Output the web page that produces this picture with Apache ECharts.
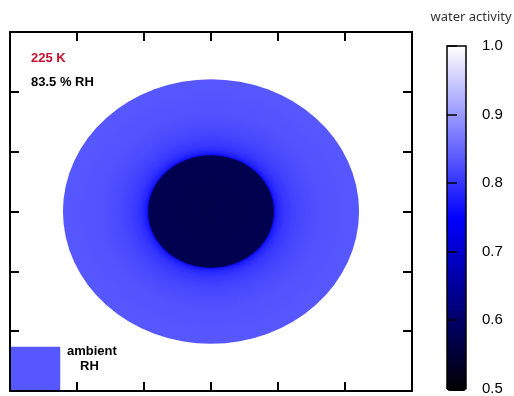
<!DOCTYPE html>
<html>
<head>
<meta charset="utf-8">
<script src="https://cdn.jsdelivr.net/npm/echarts@6/dist/echarts.min.js"></script>
<style>
html,body{margin:0;padding:0;background:#fff;}
#chart{width:514px;height:396px;}
</style>
</head>
<body>
<div id="chart"></div>
<script>
// ---- data ----
// radial profile of the droplet (radius in plot units, water activity)
const profileR = [0.0, 0.93, 0.95, 0.98, 1.03, 1.10, 1.20, 1.30, 1.45, 1.60, 1.80, 2.00, 2.21];
const profileA = [0.573, 0.578, 0.765, 0.780, 0.793, 0.804, 0.812, 0.819, 0.825, 0.829, 0.832, 0.834, 0.835];
const dropletCenter = [3, 3];
const ambientRH = [0.835];
const colorbarTicks = [0.5, 0.6, 0.7, 0.8, 0.9, 1.0];
const axisRange = [0, 6];
const labels = ['225 K', '83.5 % RH', 'ambient', 'RH', 'water activity'];

const chart = echarts.init(document.getElementById('chart'), null, {renderer: 'canvas'});

const dropletData = profileA.map((a, i) => [a, profileR[i]]);

function renderRing(params, api) {
  const i = params.dataIndex;
  const R = api.value(1);
  const c = api.coord(dropletCenter);
  const px = api.coord([dropletCenter[0] + R, dropletCenter[1]])[0] - c[0];
  const py = c[1] - api.coord([dropletCenter[0], dropletCenter[1] + R])[1];
  const color = api.visual('color');
  let fill = color;
  if (i > 0 && R > 0) {
    const prevR = api.value(1, i - 1);
    const prevColor = api.visual('color', i - 1);
    fill = new echarts.graphic.RadialGradient(0.5, 0.5, 0.5, [
      {offset: prevR / R, color: prevColor},
      {offset: 1, color: color}
    ]);
  }
  return {
    type: 'circle',
    shape: {cx: 0, cy: 0, r: Math.max(px, 0.01)},
    x: c[0], y: c[1],
    scaleY: px > 0 ? py / px : 1,
    style: {fill: fill},
    z2: 100 - i,
    silent: true
  };
}

function renderSwatch(params, api) {
  const p0 = api.coord([0, 0]);
  const p1 = api.coord([0.75, 0.74]);
  return {
    type: 'rect',
    shape: {x: p0[0], y: p1[1], width: p1[0] - p0[0], height: p0[1] - p1[1]},
    style: {fill: api.visual('color')},
    silent: true
  };
}

const frameAxis = {
  type: 'value', min: axisRange[0], max: axisRange[1], interval: 1,
  axisLine: {show: true, onZero: false, lineStyle: {color: '#000', width: 2}},
  axisTick: {show: true, inside: true, length: 9, lineStyle: {color: '#000', width: 2}},
  axisLabel: {show: false},
  splitLine: {show: false},
  z: 5
};

const font = 'Arial, "Liberation Sans", sans-serif';

const option = {
  backgroundColor: '#fff',
  animation: false,
  grid: [
    {left: 10, top: 32, width: 402, height: 359, show: false},
    {left: 447, top: 46, width: 19, height: 345, show: true, borderColor: '#000', borderWidth: 1.5, backgroundColor: 'transparent', z: 10}
  ],
  xAxis: [
    Object.assign({gridIndex: 0, position: 'bottom'}, frameAxis),
    Object.assign({gridIndex: 0, position: 'top'}, frameAxis),
    {gridIndex: 1, type: 'value', show: false, min: 0, max: 1}
  ],
  yAxis: [
    Object.assign({gridIndex: 0, position: 'left'}, frameAxis),
    Object.assign({gridIndex: 0, position: 'right'}, frameAxis),
    {
      gridIndex: 1, type: 'value', position: 'right',
      min: colorbarTicks[0], max: colorbarTicks[colorbarTicks.length - 1], interval: 0.1,
      axisLine: {show: false},
      axisTick: {show: true, length: 10, lineStyle: {color: '#000', width: 1.5}},
      axisLabel: {show: true, color: '#000', fontSize: 15, fontFamily: font, margin: 16,
        formatter: v => Number(v).toFixed(1)},
      splitLine: {show: false},
      z: 10
    }
  ],
  visualMap: {
    type: 'continuous', min: 0.5, max: 1.0, dimension: 0, seriesIndex: [0, 1],
    inRange: {color: ['#000000', '#0000ff', '#ffffff']},
    left: 447, top: 46, itemWidth: 19, itemHeight: 345, padding: 0,
    calculable: false, hoverLink: false, orient: 'vertical'
  },
  series: [
    {type: 'custom', coordinateSystem: 'cartesian2d', xAxisIndex: 0, yAxisIndex: 0,
     data: dropletData, renderItem: renderRing, silent: true},
    {type: 'custom', coordinateSystem: 'cartesian2d', xAxisIndex: 0, yAxisIndex: 0,
     data: ambientRH.map(v => [v, 0]), renderItem: renderSwatch, silent: true}
  ],
  graphic: [
    {type: 'text', x: 31, y: 58, style: {text: labels[0], fill: '#c8102e', font: 'bold 13px ' + font, textVerticalAlign: 'middle'}},
    {type: 'text', x: 31, y: 82, style: {text: labels[1], fill: '#000', font: 'bold 13px ' + font, textVerticalAlign: 'middle'}},
    {type: 'text', x: 67, y: 351, style: {text: labels[2], fill: '#000', font: 'bold 13px ' + font, textVerticalAlign: 'middle'}},
    {type: 'text', x: 80, y: 366, style: {text: labels[3], fill: '#000', font: 'bold 13px ' + font, textVerticalAlign: 'middle'}},
    {type: 'text', x: 471, y: 17, style: {text: labels[4], fill: '#333', font: '13px "Noto Sans", sans-serif', textAlign: 'center', textVerticalAlign: 'middle'}}
  ]
};
chart.setOption(option);
</script>
</body>
</html>
